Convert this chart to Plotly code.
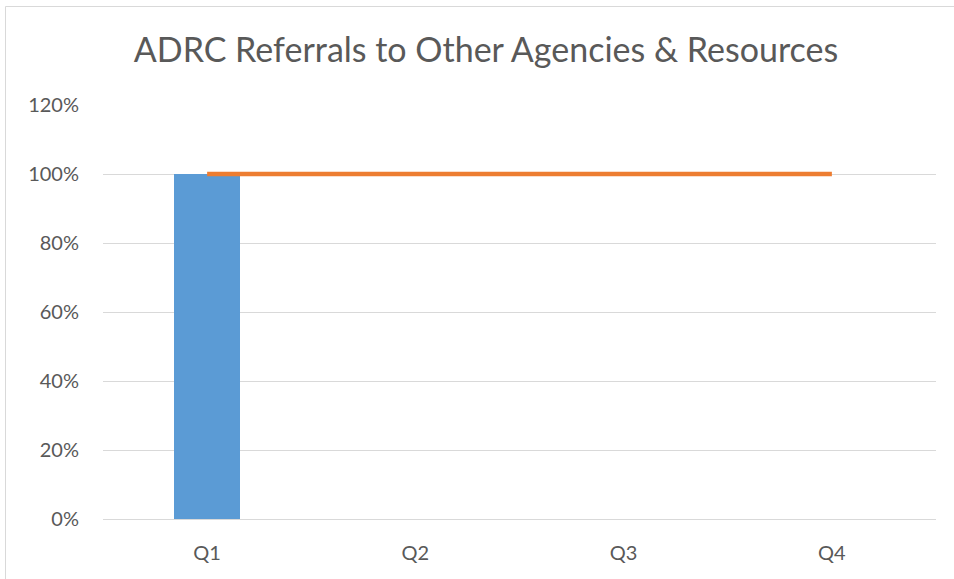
import plotly.graph_objects as go

categories = ["Q1", "Q2", "Q3", "Q4"]
actual = [100, None, None, None]
target = [100, 100, 100, 100]
title_text = "ADRC Referrals to Other Agencies & Resources"

W, H = 954, 579
L, R, T, B = 103, 18, 105, 60
pw, ph = W - L - R, H - T - B

def px_x(x):
    return (x - L) / pw

def px_y(y):
    return (H - B - y) / ph

fig = go.Figure()
fig.add_trace(go.Bar(x=categories, y=actual, marker_color="#5B9BD5", width=0.32,
                     marker_line_width=0, name="Actual"))
fig.add_trace(go.Scatter(x=categories, y=target, mode="lines",
                         line=dict(color="#ED7D31", width=4.5), name="Target"))

fig.update_layout(
    width=W, height=H,
    margin=dict(l=L, r=R, t=T, b=B),
    paper_bgcolor="white", plot_bgcolor="white",
    showlegend=False,
    font=dict(family="Lato", color="#595959", size=20),
    title=dict(text=title_text, x=486 / W, xanchor="center", y=1 - 50 / H, yanchor="middle",
               font=dict(family="Lato", size=34, color="#595959")),
    xaxis=dict(showgrid=False, showline=False, ticks="", ticklabelstandoff=20,
               tickfont=dict(size=20, color="#595959")),
    yaxis=dict(range=[0, 120], dtick=20, ticksuffix="%", showgrid=True, gridcolor="#D9D9D9",
               gridwidth=1, zeroline=True, zerolinecolor="#D9D9D9", zerolinewidth=1,
               ticks="", ticklabelstandoff=23, tickfont=dict(size=20, color="#595959")),
    bargap=0,
)
fig.add_shape(type="rect", xref="paper", yref="paper",
              x0=px_x(5.5), x1=px_x(W + 10), y0=px_y(H + 10), y1=px_y(6.5),
              line=dict(color="#D9D9D9", width=1), layer="below")

fig.write_html("out.html", config={"displayModeBar": False},
               post_script="document.body.style.margin='0';document.body.style.padding='0';")
